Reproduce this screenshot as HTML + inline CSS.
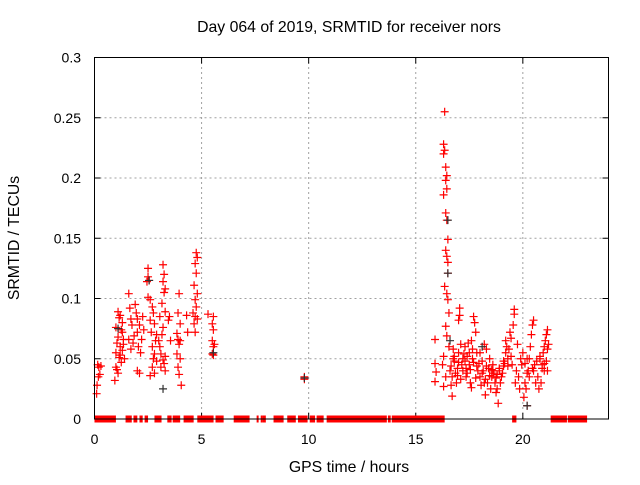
<!DOCTYPE html>
<html><head><meta charset="utf-8"><style>
html,body{margin:0;padding:0;background:#fff}
svg text{font-family:"Liberation Sans",Arial,sans-serif;font-size:14px;fill:#000}
svg text.big{font-size:15.8px}
</style></head><body>
<svg id="chart" width="640" height="480" viewBox="0 0 640 480" xmlns="http://www.w3.org/2000/svg">
<rect width="640" height="480" fill="#fff"/>
<text class="big" x="349" y="32" text-anchor="middle">Day 064 of 2019, SRMTID for receiver nors</text>
<text class="big" transform="translate(19,238) rotate(-90)" text-anchor="middle">SRMTID / TECUs</text>
<text class="big" x="349" y="472" text-anchor="middle">GPS time / hours</text>
<g id="grid"></g>
<g id="ticks"></g>
<g id="zeros"></g>
<g id="red"></g>
<g id="black"></g>
<rect x="94.5" y="57.5" width="514" height="361.5" fill="none" stroke="#000" stroke-width="1"/>
</svg>
<script>
const xTicks=[0,5,10,15,20];
const yTicks=[0,0.05,0.1,0.15,0.2,0.25,0.3];
const yTickLabels=["0","0.05","0.1","0.15","0.2","0.25","0.3"];
const zeroRuns=[[0,1.0],[1.45,1.74],[1.82,2.0],[2.1,2.25],[2.34,2.5],[2.8,3.13],[3.4,3.6],[3.65,4.0],[4.16,4.63],[4.8,5.56],[5.65,6.03],[6.5,7.24],[7.57,7.66],[7.76,7.78],[7.85,8.0],[8.36,8.83],[9.0,9.4],[9.5,9.95],[10.05,10.3],[10.37,10.7],[10.84,13.65],[13.7,13.83],[13.88,16.35],[19.5,19.7],[21.3,22.06],[22.1,23.0]];
const redHours=[0.15,0.2,0.25,0.18,0.12,0.1,0.3,
1.1,1.2,1.15,1.3,1.0,1.25,1.1,1.35,1.05,1.2,1.3,1.0,1.15,1.4,1.25,1.0,1.1,0.95,1.3,1.35,1.2,1.05,
1.6,1.65,1.7,1.75,1.6,1.8,1.7,1.85,
1.9,2.0,2.1,2.0,2.2,2.05,2.15,2.0,2.1,2.25,2.3,1.95,
2.5,2.5,2.55,2.45,2.5,2.6,2.7,
2.75,2.8,2.65,2.85,2.7,2.8,2.75,2.9,2.7,2.8,2.6,2.9,2.6,
3.2,3.25,3.2,3.3,3.25,3.15,3.3,3.05,3.2,3.0,3.1,3.2,3.25,3.1,3.3,3.05,3.15,3.3,3.5,3.55,3.45,
3.95,3.9,4.0,3.85,3.9,4.0,3.95,3.85,4.0,3.9,3.95,4.05,4.3,4.35,
4.75,4.8,4.7,4.75,4.65,4.8,4.7,4.75,4.6,4.7,4.8,4.65,4.7,
5.3,5.55,5.5,5.55,5.5,5.6,5.55,5.5,5.55,
9.8,9.8,
15.9,15.9,15.95,15.9,
16.35,16.3,16.35,16.3,16.4,16.45,16.4,16.45,16.3,16.4,16.45,16.5,16.4,16.45,16.5,16.5,16.35,16.45,16.5,16.55,16.4,16.45,16.55,16.4,16.3,16.25,16.3,
16.6,16.7,16.8,16.9,17.0,17.05,17.05,17.0,17.1,17.15,16.75,16.65,16.85,17.2,16.95,17.1,16.7,
17.3,17.4,17.5,17.6,17.7,17.75,17.8,17.4,17.55,17.65,17.35,17.45,17.85,17.9,17.3,17.7,17.6,
18.0,18.1,18.2,18.3,18.4,18.5,18.55,18.0,18.15,18.25,18.35,18.45,18.6,18.05,18.2,
18.7,18.8,18.9,19.0,19.1,18.75,18.85,18.95,19.2,19.25,19.2,19.1,18.65,19.3,
19.4,19.45,19.35,19.5,19.6,19.6,19.55,19.7,19.8,19.9,19.75,19.65,19.95,19.85,
20.1,20.15,20.2,20.0,20.25,20.35,20.4,20.45,20.5,20.3,20.55,20.6,20.05,20.2,
20.7,20.8,20.9,21.0,21.05,21.1,21.15,21.2,21.0,20.85,20.95,21.1,20.75,21.15,
16.65,16.8,16.95,17.2,17.35,17.5,17.65,17.8,17.95,18.1,18.3,18.45,18.6,18.75,18.9,19.05,19.3,19.45,20.1,20.3,20.45,20.65,20.8,21.0,21.15,16.75,17.0,17.25,17.55,17.85,18.25,18.55,18.8,19.15,20.2,20.5,20.9];
const redValues=[.045,.043,.037,.035,.028,.021,.044,
.089,.086,.084,.080,.076,.074,.068,.066,.063,.060,.057,.055,.051,.050,.047,.043,.038,.032,.072,.062,.053,.041,
.104,.092,.083,.078,.066,.063,.058,.069,
.095,.083,.078,.072,.066,.060,.055,.040,.038,.085,.074,.088,
.125,.118,.115,.114,.101,.099,.093,
.088,.079,.072,.065,.060,.054,.050,.048,.043,.038,.036,.070,.082,
.128,.120,.114,.108,.105,.096,.089,.085,.076,.065,.054,.049,.046,.043,.040,.060,.070,.052,.085,.065,.082,
.104,.088,.079,.071,.066,.065,.062,.054,.050,.043,.037,.028,.086,.072,
.138,.134,.129,.121,.111,.104,.099,.093,.088,.085,.083,.079,.072,
.087,.085,.079,.074,.065,.062,.060,.054,.053,
.035,.033,
.066,.046,.039,.031,
.255,.228,.223,.220,.209,.202,.198,.191,.186,.171,.165,.149,.140,.135,.130,.121,.110,.104,.099,.088,.077,.069,.060,.035,.027,.045,.052,
.040,.035,.048,.030,.055,.092,.086,.082,.062,.045,.058,.028,.038,.050,.042,.033,.019,
.060,.052,.045,.065,.085,.080,.072,.038,.030,.058,.035,.063,.055,.040,.048,.047,.026,
.035,.048,.030,.058,.042,.025,.035,.055,.040,.020,.030,.050,.045,.028,.062,
.030,.025,.040,.035,.048,.022,.013,.030,.055,.060,.065,.044,.038,.050,
.072,.067,.058,.045,.091,.087,.078,.040,.035,.050,.062,.030,.045,.025,
.030,.025,.011,.055,.040,.060,.070,.078,.082,.035,.045,.030,.018,.050,
.035,.050,.045,.060,.065,.070,.074,.062,.040,.030,.055,.048,.025,.058,
.044,.052,.036,.040,.042,.055,.050,.034,.046,.038,.044,.036,.040,.034,.042,.038,.044,.052,.046,.050,.042,.048,.052,.046,.040,.050,.047,.054,.041,.044,.033,.041,.037,.046,.038,.040,.042];
const blackHours=[2.55,3.2,5.55,9.8,16.5,16.5,20.2,16.6,1.1,18.1];
const blackValues=[.115,.025,.055,.034,.165,.121,.011,.065,.075,.060];

const X0=94.5,X1=608.5,Y0=419,Y1=57.5,XMAX=24,YMAX=0.3;
const xs=h=>X0+(X1-X0)*h/XMAX;
const ys=v=>Y0-(Y0-Y1)*v/YMAX;
const NS="http://www.w3.org/2000/svg";
function mk(tag,attrs,parent){const e=document.createElementNS(NS,tag);for(const k in attrs)e.setAttribute(k,attrs[k]);parent.appendChild(e);return e;}
const grid=document.getElementById('grid'),ticks=document.getElementById('ticks');
xTicks.forEach(t=>{
  const x=xs(t);
  if(t>0){const g=mk('line',{x1:x,x2:x,y1:Y0,y2:Y1,stroke:'#a0a0a0','stroke-dasharray':'2,3'},grid);
  
  }
  mk('line',{x1:x,x2:x,y1:Y0,y2:Y0-6,stroke:'#000'},ticks);
  mk('line',{x1:x,x2:x,y1:Y1,y2:Y1+6,stroke:'#000'},ticks);
  const l=mk('text',{x:x,y:444,'text-anchor':'middle'},ticks);l.textContent=t;
  
  
});
yTicks.forEach((t,i)=>{
  const y=ys(t);
  if(t>0&&t<YMAX){const g=mk('line',{x1:X0,x2:X1,y1:y,y2:y,stroke:'#a0a0a0','stroke-dasharray':'2,3'},grid);
  
  }
  mk('line',{x1:X0,x2:X0+6,y1:y,y2:y,stroke:'#000'},ticks);
  mk('line',{x1:X1,x2:X1-6,y1:y,y2:y,stroke:'#000'},ticks);
  const l=mk('text',{x:81,y:y+5,'text-anchor':'end'},ticks);l.textContent=yTickLabels[i];
  
  
});
function plus(parent,h,v,color,name){
  const x=xs(h),y=ys(v);
  const p=mk('path',{d:`M${x-4},${y}H${x+4}M${x},${y-4}V${y+4}`,stroke:color,'stroke-width':1.2,fill:'none'},parent);
  
  
}
const zg=document.getElementById('zeros');
zeroRuns.forEach(r=>{
  const a=xs(r[0]),b=xs(r[1]);
  const e=mk('rect',{x:a,y:Y0-3.5,width:Math.max(b-a,2),height:7,fill:'#ff0000'},zg);
  
  
});
const rg=document.getElementById('red');
redHours.forEach((h,i)=>plus(rg,h,redValues[i],'#ff0000','red-point'));
const bg=document.getElementById('black');
blackHours.forEach((h,i)=>plus(bg,h,blackValues[i],'#303030','black-point'));
</script>
</body></html>
